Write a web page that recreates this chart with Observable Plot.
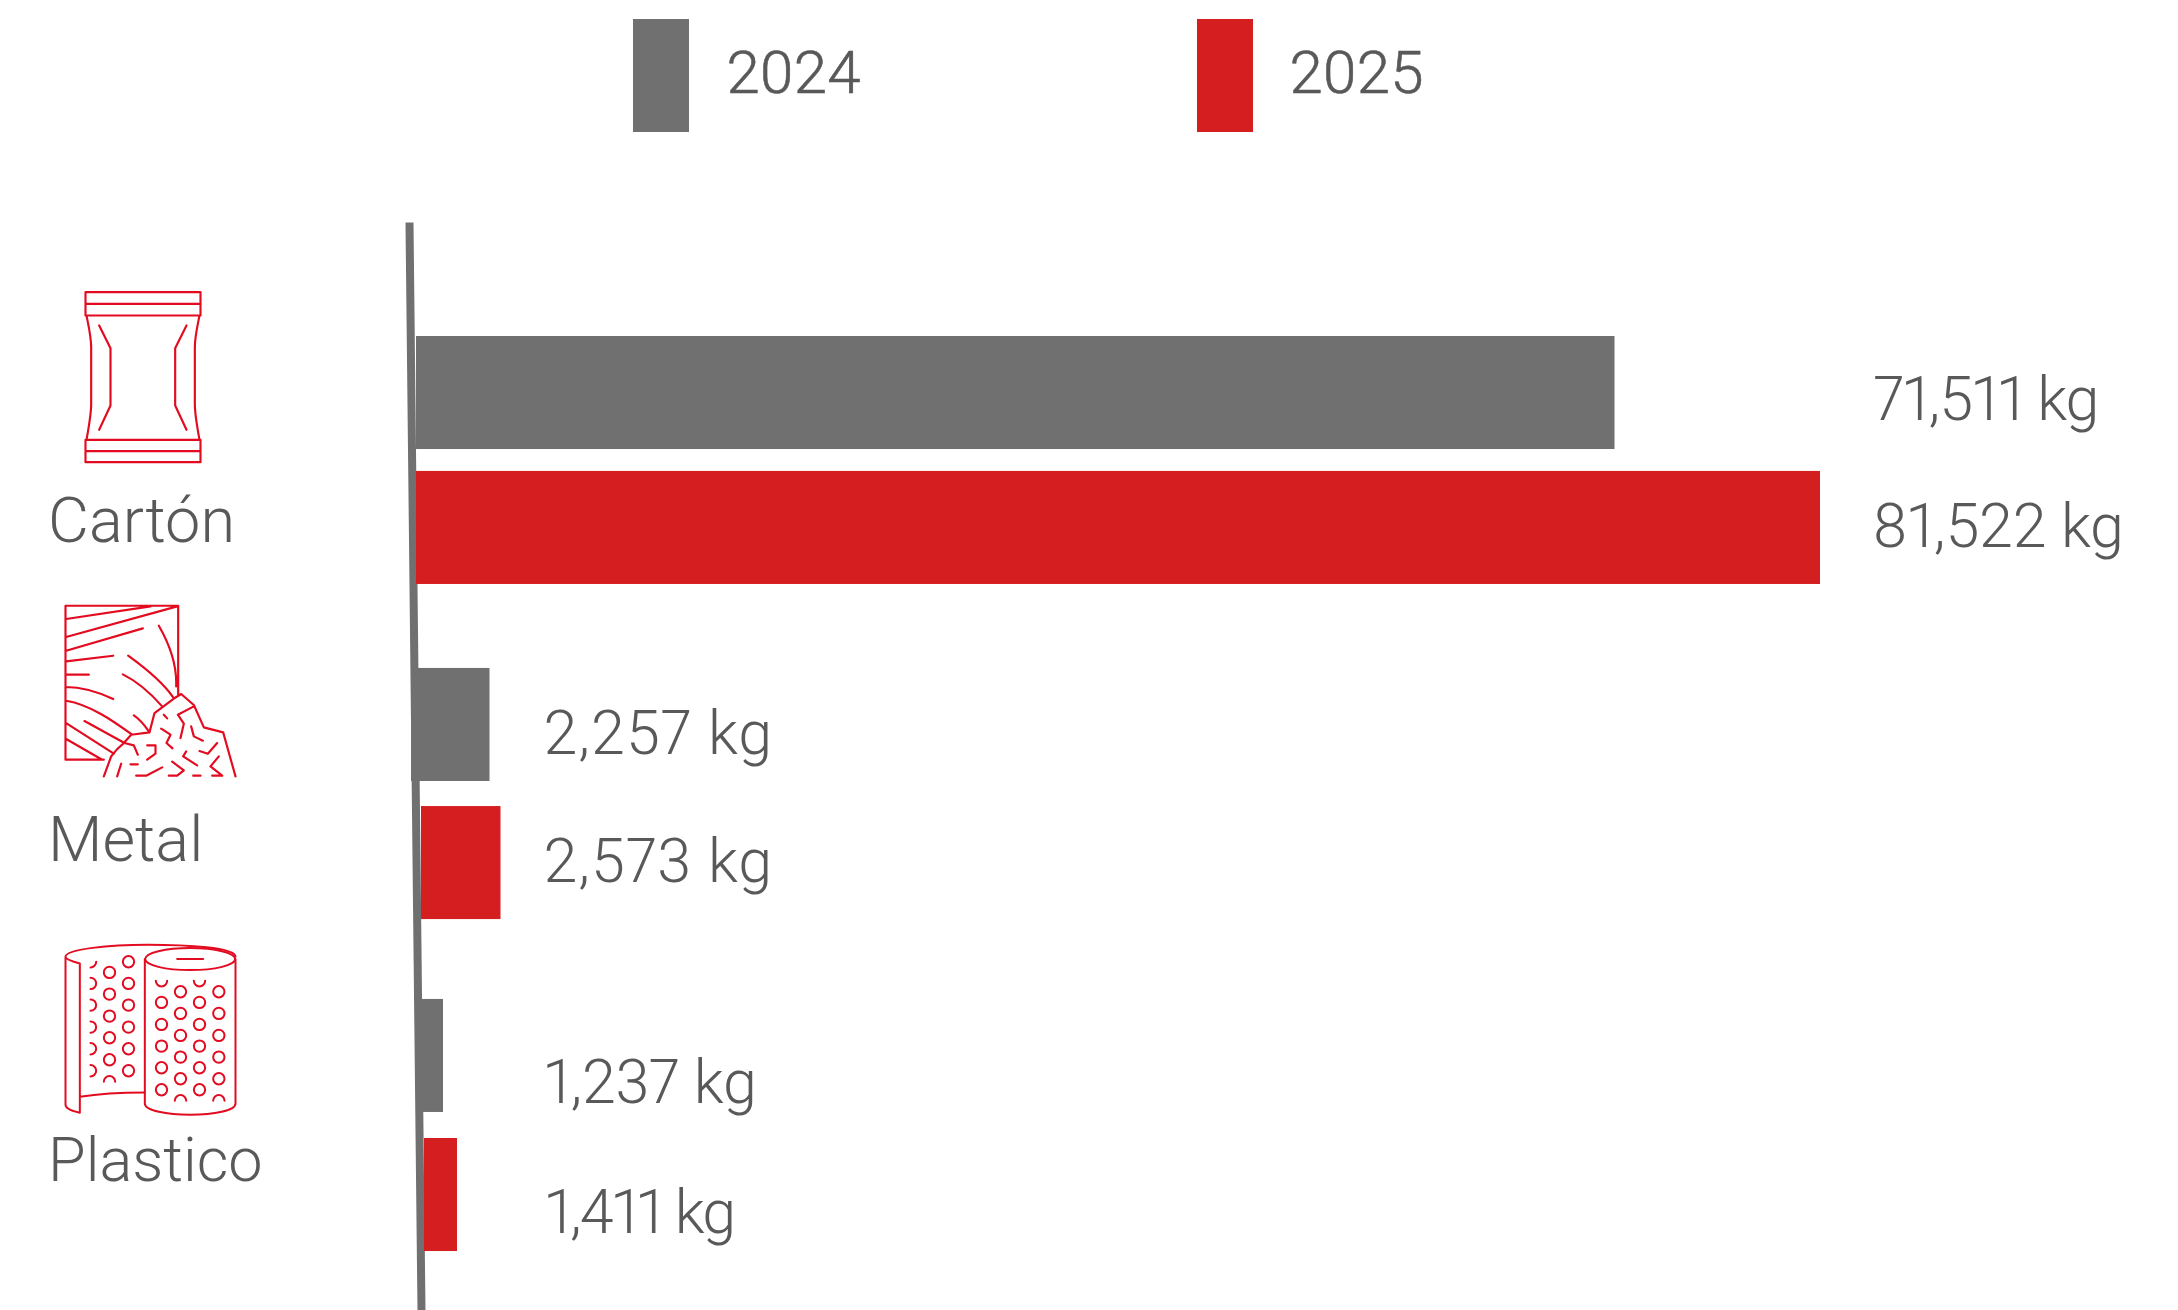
<!DOCTYPE html>
<html><head><meta charset="utf-8">
<script src="https://cdn.jsdelivr.net/npm/d3@7"></script>
<script src="https://cdn.jsdelivr.net/npm/@observablehq/plot@0.6"></script>
<style>
html,body{margin:0;padding:0;background:#fff;width:2178px;height:1310px;overflow:hidden}
#legend{position:relative;height:150px;font:300 60px Roboto,sans-serif;color:#595959;-webkit-text-stroke:.6px #595959}
#legend div{position:absolute}
#chart svg{display:block}
svg text{font-variant-numeric:proportional-nums;font-feature-settings:"pnum";-webkit-text-stroke:.6px #595959}
</style></head><body>
<div id="legend"></div><div id="chart"></div>
<script>
// data
const categories = ["Cartón", "Metal", "Plastico"];
const years = ["2024", "2025"];
const kg2024 = [71511, 2257, 1237];
const kg2025 = [81522, 2573, 1411];
// where each bar leaves the tilted baseline, in kg of the x scale
const start2024 = [0, -294, 229];
const start2025 = [0, 229, 367];
const axisKg = [-412, 229];
const axisRow = [-0.832, 7.12];
// the picture's bars are not drawn to a single linear scale: kg stops and the drawn length they reach
const kgStops = [-1000, 0, 1237, 1411, 2257, 2573, 71511, 81522];
const drawnStops = [399, 416, 443, 457, 489.5, 500.5, 1614.5, 1820];

// layout
const W = 2178, H = 1160;
const colors = {"2024": "#707070", "2025": "#d51e20"};
const ink = "#595959", iconRed = "#e30b20";
const rowTop = [[0, 0.985], [2.423, 3.431], [4.839, 5.854]];
const groupTop = [0, 2.42, 4.84];
const barSize = 0.825;
const font = "Roboto, sans-serif";
const labelSize = 61;
const catSize = [63, 63, 61.2];
const labelDx = [[258.5, 52], [53.5, 42.5], [100.5, 87.5]];   // per category, per year
const labelDy = [[7, 0], [10, -1], [28, 18]];
const labelSpacing = [[-1.05, -0.2], [1, 1], [-0.25, -1.8]];
const catDx = [47.5, 47.5, 47.5];
const catDy = [185, 173, 162];
const iconPos = [{cx:142.5, dy:41}, {cx:150, dy:23}, {cx:150, dy:30}];

// icons
const icon = (vb, body, sw) => "data:image/svg+xml;utf8," + encodeURIComponent(
  `<svg xmlns="http://www.w3.org/2000/svg" viewBox="${vb.join(" ")}"><g fill="none" stroke="${iconRed}" stroke-width="${sw}" stroke-linejoin="round" stroke-linecap="round">${body}</g></svg>`);
const icon1 = `<path d="M255 275H600V345H255ZM255 310H600M255 718H600V785H255ZM255 752H600M258 345C265 380 272 410 272 440V610C272 640 265 680 258 718M597 345C590 380 583 410 583 440V610C583 640 590 680 597 718M296 375L330 443V615L296 688M558 375L524 443V615L558 688"/>`;
const icon2 = `<path d="M310 540H195V78H533V345M197 118L450 80M197 172L530 80M197 213L427 146M197 245L338 228M197 285H265M197 322C250 322 295 338 338 358M197 363C270 375 340 425 395 465M252 424L372 490M197 430L340 522M197 478L305 540M475 138C505 190 530 250 527 320M383 228C430 262 485 305 518 353M367 284C410 305 450 340 485 380M400 407C420 420 435 440 447 458M310 590L332 530Q350 505 370 490L392 465L447 458L462 400L518 358L542 343L580 376L610 443L668 458L705 590M532 405L580 380M532 405L550 432L540 475M490 405L500 416M482 447L510 465L498 490L516 506M572 440L580 470L607 483M372 490L400 497L412 525M440 497H465V522L440 540M650 490L622 522L597 514M557 515L548 530L590 557M655 530L630 560L665 588M362 552L350 590M390 554H412M407 588H437L485 563M515 546L550 572L530 588H505M578 588H600M635 588H665"/>`;
const circ = (x, ys) => ys.map(y => `<circle cx="${x}" cy="${y}" r="17"/>`).join("");
const icon3 = `<path d="M195 108C195 85 330 72 440 72C560 72 705 80 705 108M195 108V552C195 565 220 572 238 576V128C215 122 195 115 195 108M238 528C300 518 370 515 433 515"/><ellipse cx="569" cy="115" rx="135" ry="33"/><path d="M433 115V548C433 570 500 582 569 582C640 582 705 570 705 548V115M530 115H608"/>`
 + circ(327,[155,220,286,351,417]) + circ(384,[123,188,253,319,384,450])
 + [188,253,319,384,450].map(y=>`<path d="M270 ${y-17}A17 17 0 0 1 270 ${y+17}"/>`).join("")
 + `<path d="M270 140A17 17 0 0 0 287 123M310 483A17 17 0 0 1 344 483"/>`
 + circ(483,[245,311,376,441,507]) + circ(597,[245,311,376,441,507])
 + circ(540,[213,278,344,409,474]) + circ(655,[213,278,344,409,474])
 + `<path d="M466 180A17 17 0 0 0 500 180M580 180A17 17 0 0 0 614 180M523 540A17 17 0 0 1 557 540M638 540A17 17 0 0 1 672 540"/>`;
const iconSrc = [
  {src: icon([240,262,375,538], icon1, 6.5), w:125, h:179.33},
  {src: icon([185,68,530,532], icon2, 6.5), w:176.67, h:177.33},
  {src: icon([183,60,534,533], icon3, 6), w:178, h:177.67}
];

// rows
const rows = categories.flatMap((c, i) => [
  {c, i, j:0, year:years[0], kg:kg2024[i], start:start2024[i]},
  {c, i, j:1, year:years[1], kg:kg2025[i], start:start2025[i]}
]);
const axisLine = axisKg.map((kg, k) => ({kg, row:axisRow[k]}));
const fmt = d3.format(",");
const drawn = d3.scaleLinear().domain(kgStops).range(drawnStops);

const legend = d3.select("#legend");
years.forEach((y, k) => {
  const x = [633, 1197][k];
  legend.append("div").style("left", x+"px").style("top","19px").style("width","56px").style("height","113px").style("background", colors[y]);
  legend.append("div").style("left", (x+[93.5,92.5][k])+"px").style("top","37px").style("letter-spacing",".3px").text(y);
});

const marks = [
  Plot.line(axisLine, {x:"kg", y:"row", stroke:"#707070", strokeWidth:8, strokeLinecap:"butt"}),
  Plot.rect(rows, {x1:"start", x2:"kg", y1:d=>rowTop[d.i][d.j], y2:d=>rowTop[d.i][d.j]+barSize, fill:d=>colors[d.year]}),
];
rows.forEach(r => marks.push(Plot.text([r], {
  x:"kg", y:d=>rowTop[d.i][d.j]+barSize/2, text:d=>fmt(d.kg)+" kg",
  dx:labelDx[r.i][r.j], dy:labelDy[r.i][r.j], textAnchor:"start", fill:ink,
  fontSize:labelSize, fontWeight:300, fontFamily:font,
  className:`value-${r.i}-${r.j}`
})));
categories.forEach((c, i) => {
  marks.push(Plot.text([c], {
    frameAnchor:"left", y:()=>groupTop[i], text:d=>d, dx:catDx[i], dy:catDy[i],
    textAnchor:"start", fill:ink, fontSize:catSize[i], fontWeight:300, fontFamily:font
  }));
  marks.push(Plot.image([c], {
    frameAnchor:"left", y:()=>groupTop[i], dx:iconPos[i].cx, dy:iconPos[i].dy,
    src:()=>iconSrc[i].src, width:iconSrc[i].w, height:iconSrc[i].h
  }));
});

const plot = Plot.plot({
  width:W, height:H, marginLeft:0, marginRight:0, marginTop:0, marginBottom:0,
  style:{background:"#fff"},
  x:{axis:null, transform:drawn, domain:[0,W], range:[0,W]},
  y:{axis:null, domain:[0,6], range:[186,1008]},
  marks
});
rows.forEach(r => d3.select(plot).selectAll(`.value-${r.i}-${r.j} text`).style("letter-spacing", labelSpacing[r.i][r.j]+"px"));
document.getElementById("chart").append(plot);
</script>
</body></html>
